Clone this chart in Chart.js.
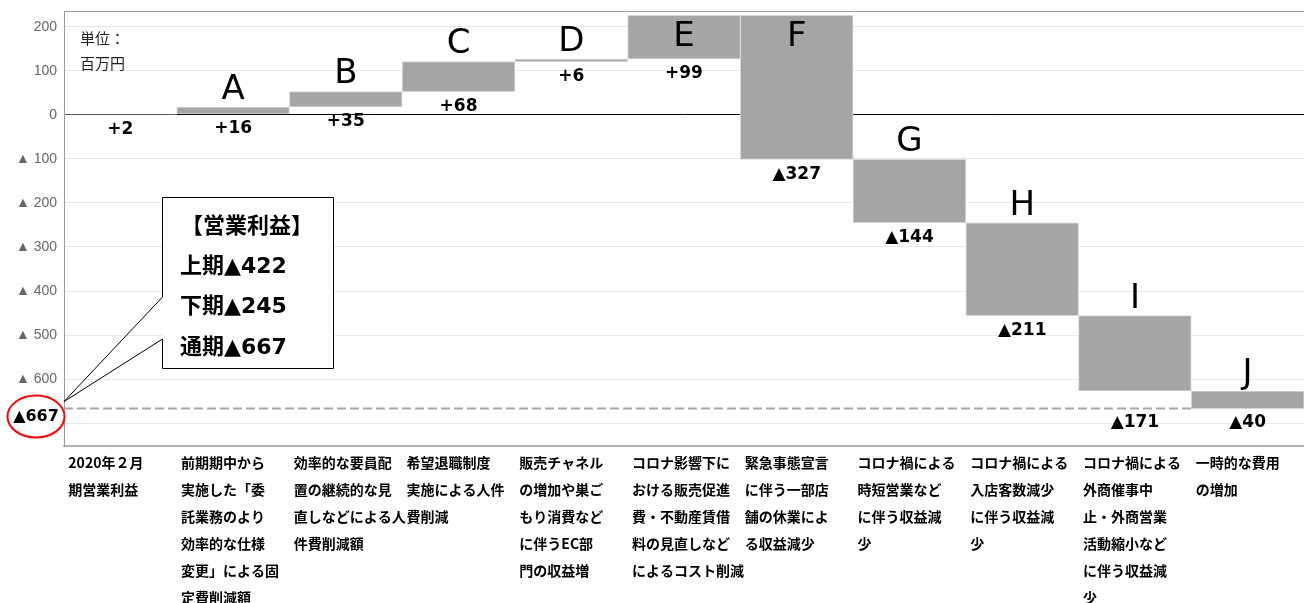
<!DOCTYPE html>
<html><head><meta charset="utf-8">
<script src="https://cdn.jsdelivr.net/npm/chart.js@4"></script>
<style>html,body{margin:0;padding:0;background:#fff}canvas{display:block}</style>
</head><body>
<canvas id="c" width="1304" height="603"></canvas>
<script>
const categories = [
  ["2020年２月","期営業利益"],
  ["前期期中から","実施した「委","託業務のより","効率的な仕様","変更」による固","定費削減額"],
  ["効率的な要員配","置の継続的な見","直しなどによる人","件費削減額"],
  ["希望退職制度","実施による人件","費削減"],
  ["販売チャネル","の増加や巣ご","もり消費など","に伴うEC部","門の収益増"],
  ["コロナ影響下に","おける販売促進","費・不動産賃借","料の見直しなど","によるコスト削減"],
  ["緊急事態宣言","に伴う一部店","舗の休業によ","る収益減少"],
  ["コロナ禍による","時短営業など","に伴う収益減","少"],
  ["コロナ禍による","入店客数減少","に伴う収益減","少"],
  ["コロナ禍による","外商催事中","止・外商営業","活動縮小など","に伴う収益減","少"],
  ["一時的な費用","の増加"]
];
const letters = ["","A","B","C","D","E","F","G","H","I","J"];
const changes = [2,16,35,68,6,99,-327,-144,-211,-171,-40];
const yTickValues = [200,100,0,-100,-200,-300,-400,-500,-600,-700];
const yMin = -752, yMax = 236;
const unitLines = ["単位：","百万円"];
const calloutTitle = "【営業利益】";
const calloutLines = ["上期▲422","下期▲245","通期▲667"];

const ranges = []; let run = 0;
changes.forEach(v => { ranges.push([run, run + v]); run += v; });
const total = run;
const fmt = v => (v >= 0 ? '+' : '▲') + Math.abs(v);

const overlay = {
  id: 'overlay',
  afterDatasetsDraw(chart) {
    const {ctx, chartArea: a, scales: {y}} = chart;
    const meta = chart.getDatasetMeta(0);
    const yTot = y.getPixelForValue(total);
    ctx.save();
    // top frame
    ctx.strokeStyle = '#a0a0a0'; ctx.lineWidth = 1;
    ctx.beginPath(); ctx.moveTo(a.left, a.top + 0.5); ctx.lineTo(a.right, a.top + 0.5); ctx.stroke();
    // dashed total line
    const last = meta.data[meta.data.length - 1];
    ctx.setLineDash([9, 4]); ctx.strokeStyle = '#a6a6a6'; ctx.lineWidth = 2;
    ctx.beginPath(); ctx.moveTo(a.left, yTot); ctx.lineTo(last.x - last.width / 2, yTot); ctx.stroke();
    ctx.setLineDash([]);
    // letters and value labels
    ctx.textAlign = 'center'; ctx.textBaseline = 'middle'; ctx.fillStyle = '#000';
    meta.data.forEach((bar, i) => {
      const top = Math.min(bar.y, bar.base), bottom = Math.max(bar.y, bar.base);
      if (letters[i]) {
        ctx.font = '34px "DejaVu Sans"';
        ctx.fillText(letters[i], bar.x, Math.max(top - 17, a.top + 26));
      }
      let ly = bottom + 15;
      if (bottom + 24 > yTot && bottom <= yTot + 2) ly = yTot + 14;
      ctx.font = 'bold 17px "DejaVu Sans"';
      ctx.fillText(fmt(changes[i]), bar.x, ly);
    });
    // unit text
    ctx.textAlign = 'left'; ctx.fillStyle = '#222';
    ctx.font = '15px "Noto Sans CJK JP"';
    ctx.fillText(unitLines[0], a.left + 16, a.top + 27);
    ctx.fillText(unitLines[1], a.left + 16, a.top + 52);
    // callout
    const x0 = a.left + 98, y0 = a.top + 186, w = 171, h = 171;
    const tipX = a.left, tipY = yTot - 7;
    ctx.fillStyle = '#fff'; ctx.fillRect(x0, y0, w, h);
    ctx.strokeStyle = '#000'; ctx.lineWidth = 1;
    ctx.beginPath();
    ctx.moveTo(x0 + 0.5, y0 + 100);
    ctx.lineTo(x0 + 0.5, y0 + 0.5);
    ctx.lineTo(x0 + w + 0.5, y0 + 0.5);
    ctx.lineTo(x0 + w + 0.5, y0 + h + 0.5);
    ctx.lineTo(x0 + 0.5, y0 + h + 0.5);
    ctx.lineTo(x0 + 0.5, y0 + 142);
    ctx.lineTo(tipX, tipY);
    ctx.lineTo(x0 + 0.5, y0 + 100);
    ctx.stroke();
    ctx.fillStyle = '#000';
    ctx.font = 'bold 22px "DejaVu Sans", "Noto Sans CJK JP"';
    ctx.fillText(calloutTitle, x0 + 19, y0 + 30);
    calloutLines.forEach((t, k) => ctx.fillText(t, x0 + 18, y0 + 70 + k * 40.5));
    // total marker on axis
    const cx = a.left - 28, cy = yTot + 8;
    ctx.textAlign = 'center';
    ctx.font = 'bold 16px "DejaVu Sans"';
    ctx.fillText(fmt(total), cx, cy);
    ctx.strokeStyle = '#ff0000'; ctx.lineWidth = 2;
    ctx.beginPath(); ctx.ellipse(cx, cy, 28.5, 21, 0, 0, Math.PI * 2); ctx.stroke();
    ctx.restore();
  }
};

new Chart(document.getElementById('c'), {
  type: 'bar',
  data: {
    labels: categories,
    datasets: [{
      data: ranges,
      backgroundColor: '#a5a5a5',
      borderColor: '#d6d6d6',
      borderWidth: 1,
      borderSkipped: false,
      barPercentage: 1,
      categoryPercentage: 1
    }]
  },
  options: {
    responsive: false,
    animation: false,
    devicePixelRatio: 1,
    layout: {padding: {top: 11, right: 0, left: 0, bottom: 0}},
    plugins: {legend: {display: false}, tooltip: {enabled: false}},
    scales: {
      x: {
        grid: {display: false, drawTicks: false},
        border: {display: true, color: '#b3b3b3', width: 2},
        ticks: {
          autoSkip: false, maxRotation: 0, minRotation: 0,
          align: 'start', labelOffset: -52, padding: 3,
          color: '#000',
          font: {family: '"Noto Sans CJK JP"', size: 14, weight: 'bold', lineHeight: '27px'}
        },
        afterFit(scale) { scale.height = 157; scale.paddingLeft = 0; scale.paddingRight = 0; }
      },
      y: {
        min: yMin, max: yMax,
        afterBuildTicks(scale) { scale.ticks = yTickValues.map(v => ({value: v})); },
        grid: {
          drawTicks: false,
          color: ctx => (ctx.tick && ctx.tick.value === 0) ? '#000' : '#e8e8e8',
          lineWidth: 1
        },
        border: {display: true, color: '#9a9a9a', width: 1},
        ticks: {
          padding: 7, color: '#666666',
          font: {family: '"Liberation Sans"', size: 14},
          callback: v => v === -700 ? '' : (v < 0 ? '▲ ' + (-v) : String(v))
        },
        afterFit(scale) { scale.width = 64; scale.paddingTop = 0; scale.paddingBottom = 0; }
      }
    }
  },
  plugins: [overlay]
});
</script>
</body></html>
